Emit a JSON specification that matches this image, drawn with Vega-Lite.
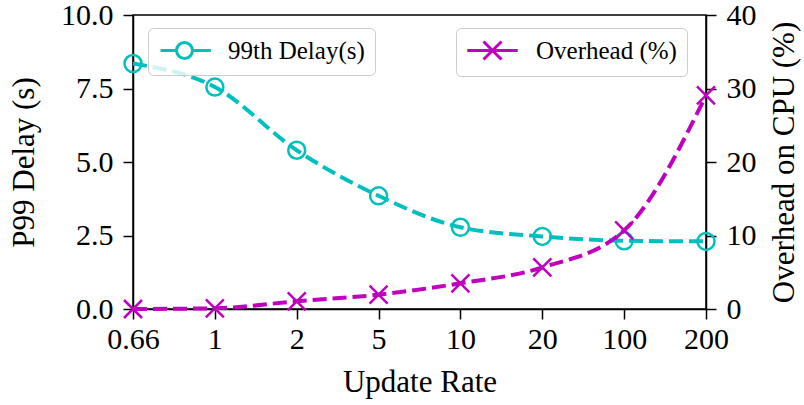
{
  "$schema": "https://vega.github.io/schema/vega-lite/v6.json",
  "width": 573,
  "height": 294,
  "autosize": "none",
  "padding": {"left": 133, "top": 15, "right": 98, "bottom": 96},
  "config": {
    "font": "Liberation Serif",
    "view": {"stroke": "black", "strokeWidth": 1.5},
    "axis": {
      "grid": false,
      "domainColor": "black",
      "domainWidth": 1.5,
      "tickColor": "black",
      "tickWidth": 1.5,
      "tickSize": 10,
      "labelFontSize": 30,
      "titleFontSize": 31,
      "labelColor": "black",
      "titleColor": "black",
      "titleFontWeight": "normal",
      "labelFont": "Liberation Serif",
      "titleFont": "Liberation Serif",
      "labelPadding": 10
    },
    "legend": {
      "labelFont": "Liberation Serif",
      "labelFontSize": 25,
      "labelColor": "black",
      "strokeColor": "#cccccc",
      "fillColor": "rgba(255,255,255,0.8)",
      "cornerRadius": 5,
      "padding": 10,
      "symbolOffset": 14,
      "labelOffset": 31,
      "symbolFillColor": "transparent",
      "title": null
    }
  },
  "data": {
    "values": [
      {"rate": "0.66", "delay": 8.35, "overhead": 0.0},
      {"rate": "1", "delay": 7.55, "overhead": 0.1},
      {"rate": "2", "delay": 5.4, "overhead": 1.05},
      {"rate": "5", "delay": 3.85, "overhead": 1.95},
      {"rate": "10", "delay": 2.78, "overhead": 3.5},
      {"rate": "20", "delay": 2.47, "overhead": 5.65},
      {"rate": "100", "delay": 2.32, "overhead": 10.7},
      {"rate": "200", "delay": 2.3, "overhead": 29.05}
    ]
  },
  "encoding": {
    "x": {
      "field": "rate",
      "type": "ordinal",
      "sort": null,
      "scale": {"type": "point", "padding": 0},
      "axis": {"labelAngle": 0, "title": "Update Rate", "labelPadding": 5, "titlePadding": 13}
    }
  },
  "layer": [
    {
      "mark": {
        "type": "line",
        "interpolate": "monotone",
        "strokeWidth": 4,
        "strokeDash": [14, 6],
        "point": {"filled": false, "shape": "circle", "size": 289, "strokeWidth": 2.5}
      },
      "encoding": {
        "y": {
          "field": "delay",
          "type": "quantitative",
          "scale": {"domain": [0, 10], "nice": false},
          "axis": {"title": "P99 Delay (s)", "format": ".1f", "values": [0, 2.5, 5, 7.5, 10], "orient": "left", "titlePadding": 20}
        },
        "color": {
          "datum": "99th Delay(s)",
          "scale": {"range": ["#00bfbf"]},
          "legend": {
            "orient": "none",
            "legendX": 15,
            "legendY": 13,
            "symbolType": "M-3,0H-1M1,0H3.3M-1,0A1,1 0 1,0 1,0A1,1 0 1,0 -1,0",
            "symbolSize": 256,
            "symbolStrokeWidth": 3
          }
        }
      }
    },
    {
      "mark": {
        "type": "line",
        "interpolate": "monotone",
        "strokeWidth": 4,
        "strokeDash": [14, 6],
        "point": {"filled": false, "shape": "M-1,-1L1,1M-1,1L1,-1", "size": 324, "strokeWidth": 2.5}
      },
      "encoding": {
        "y": {
          "field": "overhead",
          "type": "quantitative",
          "scale": {"domain": [0, 40], "nice": false},
          "axis": {"title": "Overhead on CPU (%)", "values": [0, 10, 20, 30, 40], "orient": "right", "titleAngle": 270, "titleBaseline": "top", "titlePadding": 13}
        },
        "color": {
          "datum": "Overhead (%)",
          "scale": {"range": ["#bf00bf"]},
          "legend": {
            "orient": "none",
            "legendX": 323,
            "legendY": 13,
            "symbolType": "M-2.8,0H2.8M-1,-1L1,1M-1,1L1,-1",
            "symbolSize": 324,
            "symbolStrokeWidth": 3
          }
        }
      }
    }
  ],
  "resolve": {"scale": {"y": "independent", "color": "independent"}, "legend": {"color": "independent"}}
}
